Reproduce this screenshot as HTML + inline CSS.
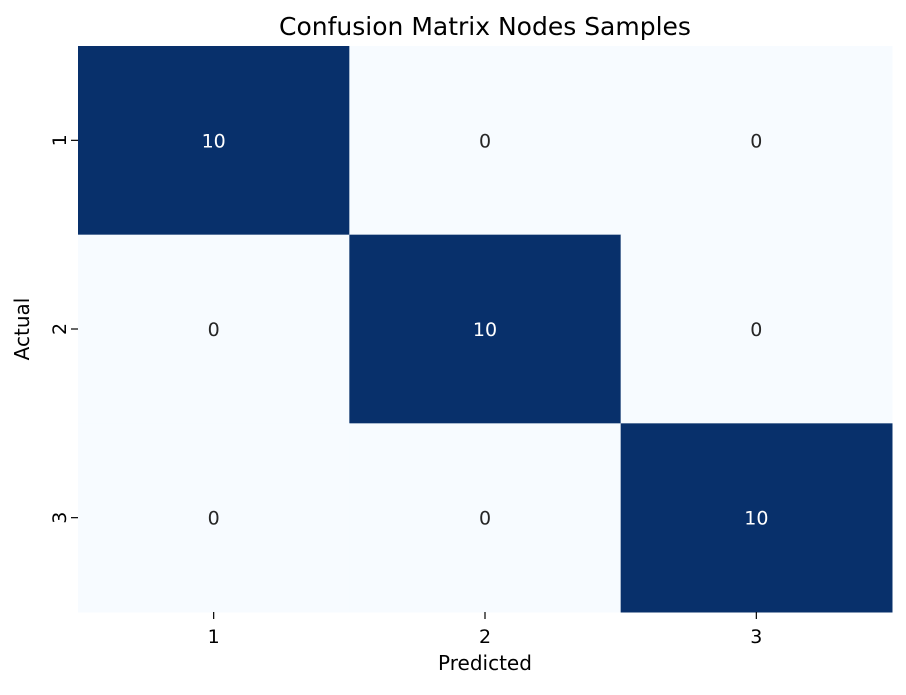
<!DOCTYPE html>
<html><head><meta charset="utf-8"><style>
body{margin:0;background:#fff;}
svg text{font-family:"DejaVu Sans","Liberation Sans",sans-serif;}
</style></head><body>
<svg id="c" width="906" height="690">
<text x="485" y="35" font-size="25" text-anchor="middle" fill="#000">Confusion Matrix Nodes Samples</text>
<text x="485" y="670" font-size="20" text-anchor="middle">Predicted</text>
<text transform="translate(29,329) rotate(-90)" font-size="20" text-anchor="middle">Actual</text>
<g id="cells"></g>
</svg>
<script>
const predictedLabels=["1","2","3"];
const actualLabels=["1","2","3"];
const row1=[10,0,0];
const row2=[0,10,0];
const row3=[0,0,10];
const matrix=[row1,row2,row3];
const L=78,T=46,W=814,H=566;
const svg=document.getElementById('c'),g=document.getElementById('cells');
const NS="http://www.w3.org/2000/svg";
const cw=W/predictedLabels.length,ch=H/actualLabels.length;
const xPos=i=>L+i*cw, yPos=j=>T+j*ch;
let mx=Math.max(...matrix.flat()),mn=Math.min(...matrix.flat());
function col(v){const t=mx===mn?0:(v-mn)/(mx-mn);
 const a=[247,251,255],b=[8,48,107];
 return 'rgb('+a.map((c,k)=>Math.round(c+(b[k]-c)*t)).join(',')+')';}
matrix.forEach((r,j)=>r.forEach((v,i)=>{
 const rc=document.createElementNS(NS,'rect');
 rc.setAttribute('x',xPos(i));rc.setAttribute('y',yPos(j));
 rc.setAttribute('width',cw+0.5);rc.setAttribute('height',ch+0.5);
 rc.setAttribute('fill',col(v));
 
 
 g.appendChild(rc);
 const t=document.createElementNS(NS,'text');
 t.setAttribute('x',xPos(i)+cw/2);t.setAttribute('y',yPos(j)+ch/2+7);
 t.setAttribute('text-anchor','middle');t.setAttribute('font-size','19');
 t.setAttribute('fill',(mx===mn?0:(v-mn)/(mx-mn))>0.5?'#fff':'#262626');
 t.textContent=v;
 
 
 g.appendChild(t);
}));
predictedLabels.forEach((l,i)=>{
 const x=xPos(i)+cw/2;
 const ln=document.createElementNS(NS,'line');
 ln.setAttribute('x1',x);ln.setAttribute('x2',x);ln.setAttribute('y1',T+H);ln.setAttribute('y2',T+H+7);
 ln.setAttribute('stroke','#000');ln.setAttribute('stroke-width','1.2');
 
 
 svg.appendChild(ln);
 const t=document.createElementNS(NS,'text');
 t.setAttribute('x',x);t.setAttribute('y',T+H+31);t.setAttribute('text-anchor','middle');t.setAttribute('font-size','19');
 t.textContent=l;
 
 
 svg.appendChild(t);
});
actualLabels.forEach((l,j)=>{
 const y=yPos(j)+ch/2;
 const ln=document.createElementNS(NS,'line');
 ln.setAttribute('x1',L-7);ln.setAttribute('x2',L);ln.setAttribute('y1',y);ln.setAttribute('y2',y);
 ln.setAttribute('stroke','#000');ln.setAttribute('stroke-width','1.2');
 
 
 svg.appendChild(ln);
 const t=document.createElementNS(NS,'text');
 t.setAttribute('transform','translate('+(L-12)+','+y+') rotate(-90)');
 t.setAttribute('text-anchor','middle');t.setAttribute('font-size','19');
 t.textContent=l;
 
 
 svg.appendChild(t);
});
</script>
</body></html>
